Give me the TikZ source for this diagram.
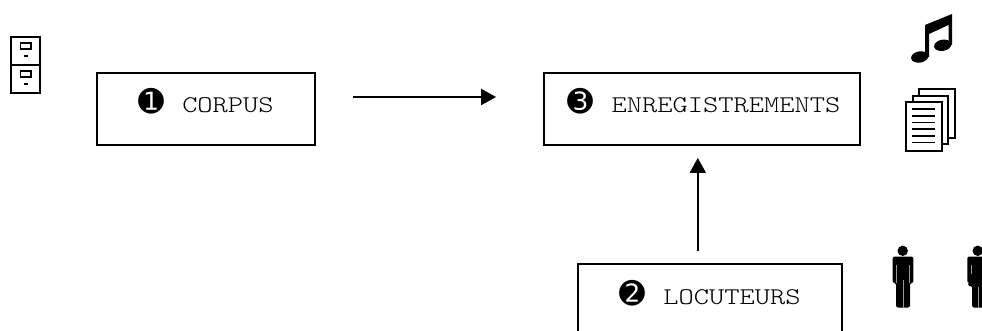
\documentclass[tikz,border=0pt]{standalone}
\usepackage{fontspec}
\usepackage{tikz}
\usetikzlibrary{arrows.meta}
\newfontfamily\labelfont[FakeStretch=1.21]{Latin Modern Mono Light}
\newfontfamily\numfont{DejaVu Sans}
\newcommand{\boxtext}[2]{{\numfont\fontsize{31}{31}\selectfont #1}\hspace{18pt}{\labelfont\fontsize{24}{24}\selectfont #2}}

\begin{document}
\begin{tikzpicture}[x=1pt,y=-1pt,
  stepbox/.style={draw,line width=1.8pt,inner sep=0pt,minimum height=72pt,text height=40pt,text depth=32pt},
  flow/.style={line width=2pt,-{Triangle[length=15pt,width=16pt]}},
  icon/.style={draw,line width=1.3pt,fill=white},
  figure/.style={fill=black,draw=none}]
  \clip (0,0) rectangle (982,331);

  \node[stepbox,minimum width=218pt] (corpus) at (206,109) {\boxtext{➊}{CORPUS}};
  \node[stepbox,minimum width=316pt] (enreg) at (702,109) {\hspace{4pt}\boxtext{➌}{ENREGISTREMENTS}};
  \node[stepbox,minimum width=264pt] (locuteurs) at (710,300) {\boxtext{➋}{LOCUTEURS}};

  \draw[flow,shorten <=37pt,shorten >=47pt] ([yshift=12pt]corpus.east) -- ([yshift=12pt]enreg.west);
  \draw[flow,shorten <=12pt,shorten >=12pt] ([xshift=-12.2pt]locuteurs.north) -- ([xshift=-4.2pt]enreg.south);

  % cabinet
  \draw[icon] (11,37) rectangle (40,93);
  \draw[icon] (11,65) -- (40,65);
  \foreach \y in {0,28} {
    \draw[icon] (20.5,43+\y) rectangle (31,49+\y);
    \fill (23.5,55+\y) rectangle (28,57+\y);
  }

  % note
  \fill (925,25) -- (952,14) -- (952,45) -- (948.5,45) -- (948.5,25) -- (929,34) -- (929,57) -- (925,57) -- cycle;
  \fill[rotate around={10:(919.7,57)}] (919.7,57) ellipse (8.7 and 5.6);
  \fill[rotate around={10:(942.7,45.3)}] (942.7,45.3) ellipse (8.7 and 5.6);

  % pages
  \draw[icon] (919,89) rectangle (955,138);
  \draw[icon] (913,96) rectangle (948,144);
  \draw[icon] (906,102) rectangle (942,151);
  \foreach \y in {109,116,122.5,129,136,142.5}
    \draw[line width=1.2pt] (912,\y) -- (935,\y);

  % man
  \fill[figure] (902.7,250.8) circle (5.2);
  \fill[figure,rounded corners=2pt] (892.7,283) -- (892.7,256.5) -- (913.3,256.5) -- (913.3,283) -- (910,283) -- (910,307.5) -- (896,307.5) -- (896,283) -- cycle;
  \draw[white!60!black,line width=.7pt] (896.6,265) -- (896.6,283) (909.4,265) -- (909.4,283) (903,280) -- (903,308);

  % woman
  \fill[figure] (977.7,250.8) circle (5.2);
  \fill[figure,rounded corners=1.5pt] (967.3,283) -- (967.3,256.5) -- (988,256.5) -- (988,283) -- (984,286) -- (984,307.5) -- (972,307.5) -- (972,286) -- (967.7,286) -- (971.7,273) -- (971.7,283) -- cycle;
  \draw[white!60!black,line width=.7pt] (971.2,265) -- (971.2,274) (978,287) -- (978,308);
\end{tikzpicture}
\end{document}
